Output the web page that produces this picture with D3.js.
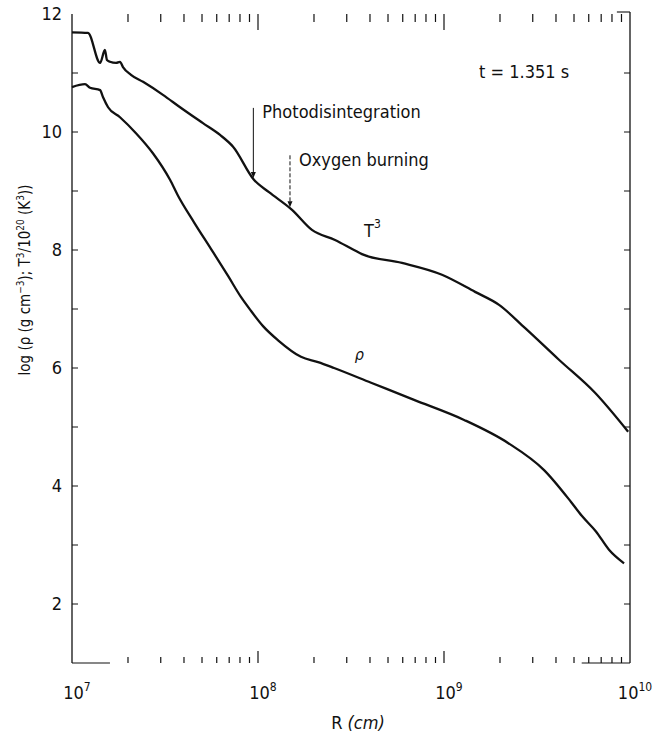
<!DOCTYPE html>
<html><head><meta charset="utf-8">
<script src="https://cdn.jsdelivr.net/npm/d3@7"></script>
<style>
body{margin:0;background:#fff}
text{font-family:"DejaVu Sans Condensed","DejaVu Sans",sans-serif;font-stretch:condensed;fill:#111}
</style></head><body><svg id="c" width="664" height="743"></svg>
<script>
// ---- data (log10 R in cm, value) ----
const t3LogR = [7.000,7.086,7.151,7.177,7.188,7.204,7.237,7.258,7.274,7.317,7.382,7.489,7.581,7.704,7.796,7.866,7.978,8.059,8.183,8.290,8.414,8.516,8.559,8.774,8.989,9.167,9.296,9.435,9.618,9.812,9.990];
const t3Val  = [11.69,11.68,11.17,11.39,11.22,11.19,11.17,11.19,11.10,10.97,10.85,10.63,10.42,10.15,9.95,9.75,9.19,8.98,8.68,8.34,8.17,8.00,7.93,7.78,7.58,7.29,7.07,6.68,6.14,5.58,4.92];
const rhoLogR = [7.000,7.070,7.097,7.151,7.167,7.194,7.258,7.344,7.435,7.527,7.570,7.656,7.747,7.839,7.909,7.962,8.027,8.108,8.231,8.323,8.409,8.608,8.839,9.108,9.344,9.538,9.683,9.742,9.817,9.887,9.968];
const rhoVal  = [10.76,10.81,10.75,10.71,10.59,10.42,10.25,9.98,9.64,9.19,8.92,8.47,8.02,7.56,7.20,6.97,6.71,6.47,6.19,6.10,6.00,5.75,5.46,5.12,4.73,4.27,3.73,3.49,3.23,2.92,2.69];
const xDecades = [7,8,9,10];
const yLabels = [2,4,6,8,10,12];
const yTicks = [2,3,4,5,6,7,8,9,10,11];
const annotations = [
  {label:"Photodisintegration", logR:7.975, rise:70, dash:null},
  {label:"Oxygen burning", logR:8.172, rise:52, dash:"4,2"}
];
const timeLabel = "t = 1.351 s";

const svg = d3.select("#c");
const x = d3.scaleLog().domain([1e7,1e10]).range([72,630]);
const y = d3.scaleLinear().domain([1,12]).range([663,14]);
const ink = "#111";

// axes lines
svg.append("line").attr("x1",x(1e7)).attr("x2",x(1e7)).attr("y1",y(12)).attr("y2",y(1)).attr("stroke",ink).attr("stroke-width",1.3);
svg.append("line").attr("x1",x(1e10)).attr("x2",x(1e10)).attr("y1",y(12)-2).attr("y2",y(1)).attr("stroke",ink).attr("stroke-width",1.3);
svg.append("line").attr("x1",x(1e7)).attr("x2",x(1.6e7)).attr("y1",y(1)).attr("y2",y(1)).attr("stroke",ink).attr("stroke-width",1.1);
svg.append("line").attr("x1",x(5.5e9)).attr("x2",x(1e10)).attr("y1",y(1)).attr("y2",y(1)).attr("stroke",ink).attr("stroke-width",1.1);
svg.append("line").attr("x1",x(8.5e9)).attr("x2",x(1e10)).attr("y1",y(12)-2).attr("y2",y(12)-2).attr("stroke",ink).attr("stroke-width",1.1);

// minor log ticks on top & bottom
const logTicks = [];
for (let d=7; d<10; d++) for (let m=1; m<10; m++) { if (d===7 && m===1) continue; logTicks.push(m*Math.pow(10,d)); }
const isDecade = d => Math.abs(Math.log10(d)%1)<1e-9;
svg.append("g").selectAll("line").data(logTicks).join("line")
  .attr("x1",d=>x(d)).attr("x2",d=>x(d))
  .attr("y1",y(12)).attr("y2",d=>y(12)+(isDecade(d)?16:8))
  .attr("stroke",ink).attr("stroke-width",1.2);
svg.append("g").selectAll("line").data(logTicks).join("line")
  .attr("x1",d=>x(d)).attr("x2",d=>x(d))
  .attr("y1",y(1)).attr("y2",d=>y(1)-(isDecade(d)?12:6))
  .attr("stroke",ink).attr("stroke-width",1.2);

// y ticks left & right
svg.append("g").selectAll("line").data(yTicks).join("line")
  .attr("x1",x(1e7)).attr("x2",x(1e7)+6).attr("y1",d=>y(d)).attr("y2",d=>y(d))
  .attr("stroke",ink).attr("stroke-width",1);
svg.append("g").selectAll("line").data(yTicks).join("line")
  .attr("x1",x(1e10)).attr("x2",x(1e10)-6).attr("y1",d=>y(d)).attr("y2",d=>y(d))
  .attr("stroke",ink).attr("stroke-width",1);

// y labels
svg.append("g").selectAll("text").data(yLabels).join("text")
  .attr("x",x(1e7)-10).attr("y",d=>y(d)).attr("dy","0.36em")
  .attr("text-anchor","end").attr("font-size",18).text(d=>d);

// x labels
const xl = svg.append("g").selectAll("text").data(xDecades).join("text")
  .attr("x",d=>x(Math.pow(10,d))+5).attr("y",699)
  .attr("text-anchor","middle").attr("font-size",18);
xl.append("tspan").text("10");
xl.append("tspan").attr("font-size",12).attr("dy",-8).text(d=>d);

// axis titles
const xt = svg.append("text").attr("x",358).attr("y",729).attr("text-anchor","middle").attr("font-size",18);
xt.append("tspan").text("R ");
xt.append("tspan").attr("font-style","italic").text("(cm)");

const yt = svg.append("text").attr("transform","translate(30,280) rotate(-90)").attr("text-anchor","middle").attr("font-size",15);
yt.append("tspan").text("log (ρ (g cm");
yt.append("tspan").attr("font-size",10).attr("dy",-6).text("−3");
yt.append("tspan").attr("dy",6).text("); T");
yt.append("tspan").attr("font-size",10).attr("dy",-6).text("3");
yt.append("tspan").attr("dy",6).text("/10");
yt.append("tspan").attr("font-size",10).attr("dy",-6).text("20");
yt.append("tspan").attr("dy",6).text(" (K");
yt.append("tspan").attr("font-size",10).attr("dy",-6).text("3");
yt.append("tspan").attr("dy",6).text("))");

// curves
const line = d3.line().x(d=>x(Math.pow(10,d[0]))).y(d=>y(d[1])).curve(d3.curveMonotoneX);
const t3 = t3LogR.map((r,i)=>[r,t3Val[i]]);
const rho = rhoLogR.map((r,i)=>[r,rhoVal[i]]);
svg.append("path").attr("d",line(t3)).attr("fill","none").attr("stroke",ink).attr("stroke-width",2.3).attr("stroke-linejoin","round");
svg.append("path").attr("d",line(rho)).attr("fill","none").attr("stroke",ink).attr("stroke-width",2.3).attr("stroke-linejoin","round");

// curve labels
const tl = svg.append("text").attr("x",x(Math.pow(10,8.57))).attr("y",y(8.22)).attr("font-size",18);
tl.append("tspan").text("T");
tl.append("tspan").attr("font-size",12).attr("dy",-9).text("3");
svg.append("text").attr("x",x(Math.pow(10,8.52))).attr("y",y(6.14)).attr("font-size",16).attr("font-style","italic").text("ρ");

// time
svg.append("text").attr("x",479).attr("y",78).attr("font-size",18).text(timeLabel);

// annotations
const interpT3 = lr => { const i = d3.bisector(d=>d[0]).right(t3, lr); const a=t3[i-1], b=t3[i]; return a[1]+(b[1]-a[1])*(lr-a[0])/(b[0]-a[0]); };
annotations.forEach(a=>{
  const ax = x(Math.pow(10,a.logR));
  const tip = y(interpT3(a.logR)) - 1;
  const top = tip - a.rise;
  const ln = svg.append("line").attr("x1",ax).attr("x2",ax).attr("y1",top).attr("y2",tip-4).attr("stroke",ink).attr("stroke-width",1);
  if (a.dash) ln.attr("stroke-dasharray",a.dash);
  svg.append("path").attr("d",`M${ax-2.5},${tip-6}L${ax+2.5},${tip-6}L${ax},${tip}Z`).attr("fill",ink);
  svg.append("text").attr("x",ax+9).attr("y",top+4).attr("dy","0.36em").attr("font-size",18).text(a.label);
});
</script></body></html>
